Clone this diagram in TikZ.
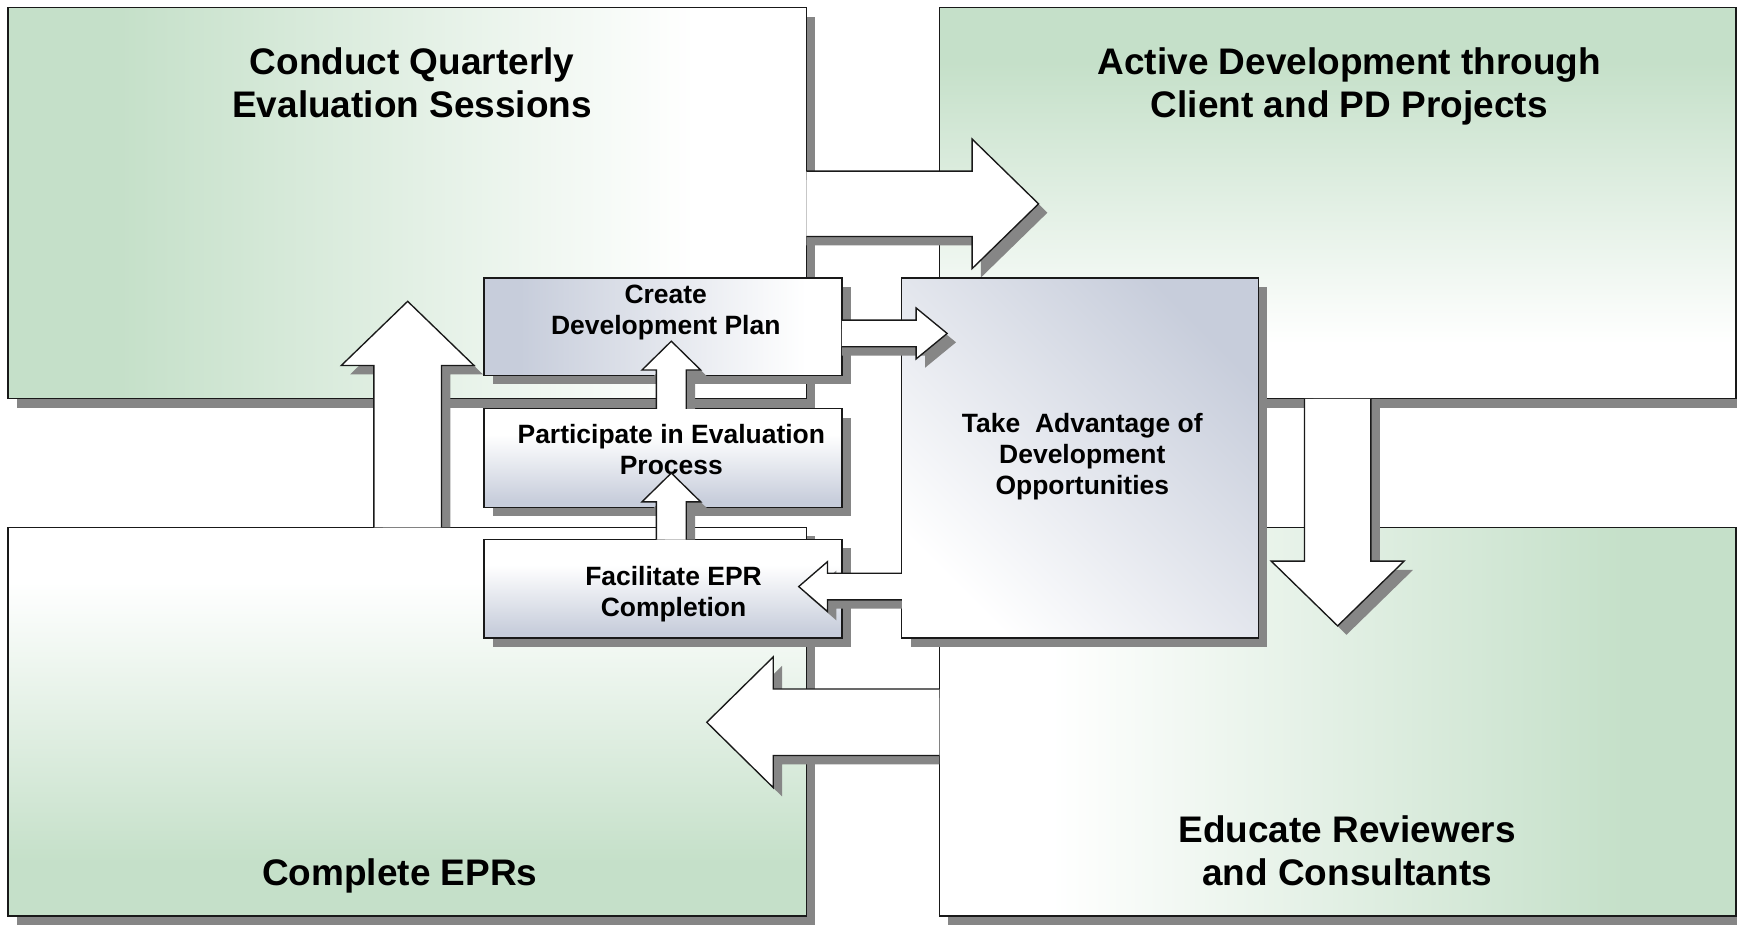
\documentclass[tikz,border=0pt]{standalone}
\usepackage{fontspec}
\setmainfont{Liberation Sans}
\usetikzlibrary{calc,shadows}

\definecolor{boxgreen}{RGB}{197,224,201}
\definecolor{boxblue}{RGB}{199,205,219}
\definecolor{shadowgray}{RGB}{134,134,134}
\definecolor{edgecol}{RGB}{25,25,25}

% Fill shadings (the middle 50bp of each one spans the shaded box)
\pgfdeclarehorizontalshading{greenleft}{100bp}{color(0bp)=(boxgreen); color(32bp)=(boxgreen); color(68bp)=(white); color(100bp)=(white)}
\pgfdeclarehorizontalshading{greenright}{100bp}{color(0bp)=(white); color(32bp)=(white); color(68bp)=(boxgreen); color(100bp)=(boxgreen)}
\pgfdeclareverticalshading{greentop}{100bp}{color(0bp)=(white); color(32bp)=(white); color(68bp)=(boxgreen); color(100bp)=(boxgreen)}
\pgfdeclareverticalshading{greenbottom}{100bp}{color(0bp)=(boxgreen); color(32bp)=(boxgreen); color(68bp)=(white); color(100bp)=(white)}
\pgfdeclarehorizontalshading{blueleft}{100bp}{color(0bp)=(boxblue); color(30bp)=(boxblue); color(70bp)=(white); color(100bp)=(white)}
\pgfdeclareverticalshading{bluebottom}{100bp}{color(0bp)=(boxblue); color(28bp)=(boxblue); color(62bp)=(white); color(100bp)=(white)}

\tikzset{
  boxline/.style={draw=edgecol, line width=0.7pt},
  shadowed/.style={drop shadow={shadow xshift=0.16cm, shadow yshift=-0.16cm, fill=shadowgray, opacity=1}},
  bigbox/.style={rectangle, boxline, shadowed, shade, inner sep=0pt, outer sep=0pt},
  midbox/.style={rectangle, boxline, shadowed, shade, inner sep=0pt, outer sep=0pt,
    minimum width=6.46cm, minimum height=1.78cm},
  bigtext/.style={font=\bfseries\fontsize{19}{22.2}\selectfont, align=center, inner sep=0pt},
  midtext/.style={font=\bfseries\fontsize{13.6}{15.9}\selectfont, align=center, inner sep=0pt},
}

% Block arrow from a tail point to a tip point, with a drop shadow cut off at the tail.
% #1 tail, #2 tip, #3 body half width, #4 head half width, #5 head length (picture units)
\newcommand\drawblockarrow[5]{%
  \coordinate (ba-T) at (#1);
  \coordinate (ba-P) at (#2);
  \coordinate (ba-H) at ($(ba-P)!{#5*0.56906pt}!(ba-T)$);
  \coordinate (ba-a1) at ($(ba-T)!{#3*0.56906pt}!90:(ba-P)$);
  \coordinate (ba-b1) at ($(ba-T)!{#3*0.56906pt}!-90:(ba-P)$);
  \coordinate (ba-a2) at ($(ba-H)!{#3*0.56906pt}!-90:(ba-T)$);
  \coordinate (ba-b2) at ($(ba-H)!{#3*0.56906pt}!90:(ba-T)$);
  \coordinate (ba-a3) at ($(ba-H)!{#4*0.56906pt}!-90:(ba-T)$);
  \coordinate (ba-b3) at ($(ba-H)!{#4*0.56906pt}!90:(ba-T)$);
  \coordinate (ba-sa) at ($(ba-a1)+(8,8)$);
  \coordinate (ba-sb) at ($(ba-b1)+(8,8)$);
  \fill[shadowgray] ($(ba-a1)!(ba-sa)!(ba-b1)$) -- ($(ba-a2)+(8,8)$) -- ($(ba-a3)+(8,8)$)
    -- ($(ba-P)+(8,8)$) -- ($(ba-b3)+(8,8)$) -- ($(ba-b2)+(8,8)$)
    -- ($(ba-a1)!(ba-sb)!(ba-b1)$) -- cycle;
  \fill[white] (ba-a1) -- (ba-a2) -- (ba-a3) -- (ba-P) -- (ba-b3) -- (ba-b2) -- (ba-b1) -- cycle;
  \draw[boxline, line join=miter] (ba-a1) -- (ba-a2) -- (ba-a3) -- (ba-P) -- (ba-b3) -- (ba-b2) -- (ba-b1);
}

\begin{document}
\begin{tikzpicture}[x=0.02cm, y=-0.02cm]
\useasboundingbox (0,0) rectangle (1568,836);
\clip (0,0) rectangle (1568,836);
\fill[white] (0,0) rectangle (1568,836);

% four stage panels
\node[bigbox, shading=greenleft, minimum width=14.42cm, minimum height=7.06cm] (tl) at (367.5,183.5) {};
\node[bigbox, shading=greentop, minimum width=14.38cm, minimum height=7.06cm] (tr) at (1207.5,183.5) {};
\node[bigbox, shading=greenbottom, minimum width=14.42cm, minimum height=7.02cm] (bl) at (367.5,651.5) {};
\node[bigbox, shading=greenright, minimum width=14.38cm, minimum height=7.02cm] (br) at (1207.5,651.5) {};

\node[bigtext] (tl-text) at (372,74.5) {Conduct Quarterly\\Evaluation Sessions};
\node[bigtext] (tr-text) at (1218,78) {Active Development through\\Client and PD Projects};
\node[bigtext] (bl-text) at (361,791) {Complete EPRs};
\node[bigtext] (br-text) at (1216,768) {Educate Reviewers\\and Consultants};

% cycle arrows between the panels
\coordinate (tip-tr) at (937.5,184);
\coordinate (tip-br) at (1207.5,565);
\coordinate (tip-bl) at (638,652);
\coordinate (tip-tl) at (368,272);
\drawblockarrow{tl.east |- 0,184}{tip-tr}{29.5}{58.5}{60}
\drawblockarrow{tr.south -| 1207.5,0}{tip-br}{30}{60}{58.5}
\drawblockarrow{br.west |- 0,652}{tip-bl}{30}{59}{60}
\drawblockarrow{bl.north -| 368,0}{tip-tl}{30.5}{60}{58}

% inner steps
\node[midbox, shading=blueleft, minimum height=1.76cm] (create) at (598.5,295) {};
\node[midtext] (create-text) at (601,282.5) {Create\\Development Plan};
\node[midbox, shading=bluebottom] (part) at (598.5,413.5) {};
\node[midtext] (part-text) at (606,405.5) {Participate in Evaluation\\Process};
\node[midbox, shading=bluebottom] (fac) at (598.5,531.5) {};
\node[midtext] (fac-text) at (608,536.5) {Facilitate EPR\\Completion};
\node[midbox, top color=boxblue, bottom color=white, shading angle=-45,
  minimum width=6.44cm, minimum height=6.5cm] (take) at (975,413.5) {};
\node[midtext] (take-text) at (977,412.5) {Take\ \ Advantage of\\Development\\Opportunities};

% arrows between the inner steps
\coordinate (tip-create) at (606,308);
\coordinate (tip-part) at (606,427);
\coordinate (tip-take) at (855,301);
\coordinate (tip-fac) at (721,529.5);
\drawblockarrow{part.north -| 606,0}{tip-create}{13.5}{26.5}{26}
\drawblockarrow{fac.north -| 606,0}{tip-part}{13.5}{26.5}{26}
\drawblockarrow{create.east |- 0,301}{tip-take}{12}{23}{28}
\drawblockarrow{take.west |- 0,529.5}{tip-fac}{12}{22.5}{26}
\end{tikzpicture}
\end{document}
